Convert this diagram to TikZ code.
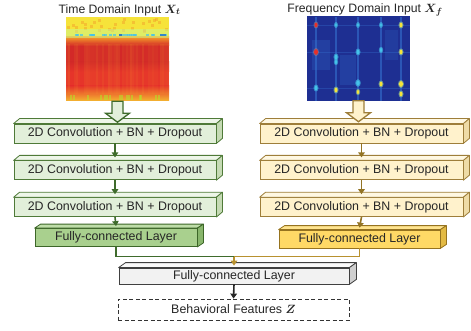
\documentclass[tikz,border=0pt]{standalone}
\usepackage{fontspec}
\setmainfont{Liberation Sans}
\usepackage{bm}
\usetikzlibrary{positioning,calc,arrows.meta}

\definecolor{convLfill}{HTML}{E2EFDA}
\definecolor{convLtop}{HTML}{EEF6E9}
\definecolor{convLside}{HTML}{C5DAB4}
\definecolor{convLdraw}{HTML}{4F7A38}
\definecolor{fcLfill}{HTML}{A9D08E}
\definecolor{fcLtop}{HTML}{BEDDA8}
\definecolor{fcLside}{HTML}{88B66C}
\definecolor{fcLdraw}{HTML}{3C6628}
\definecolor{convRfill}{HTML}{FFF2CC}
\definecolor{convRtop}{HTML}{FFF8E2}
\definecolor{convRside}{HTML}{EEDBA6}
\definecolor{convRdraw}{HTML}{9E7E3A}
\definecolor{fcRfill}{HTML}{FFD966}
\definecolor{fcRtop}{HTML}{FFE48E}
\definecolor{fcRside}{HTML}{E3BA44}
\definecolor{fcRdraw}{HTML}{96731F}
\definecolor{fcBfill}{HTML}{F2F2F2}
\definecolor{fcBtop}{HTML}{FAFAFA}
\definecolor{fcBside}{HTML}{CFCFCF}
\definecolor{fcBdraw}{HTML}{404040}
\definecolor{greenflow}{HTML}{3F6B2C}
\definecolor{goldflow}{HTML}{B8912F}
\definecolor{hmYellow}{HTML}{F6E33A}
\definecolor{hmOrange}{HTML}{F39A2A}
\definecolor{hmRed}{HTML}{E6302A}
\definecolor{hmDark}{HTML}{D22428}
\definecolor{hmCyan}{HTML}{45C3EA}
\definecolor{hmBlue}{HTML}{1E2F92}
\definecolor{hmLine}{HTML}{3570CF}

% side and top faces of a layer block
\newcommand{\boxdepth}[5]{%
  \filldraw[fill=#3, draw=#5, line width=0.8pt, line join=round]
    (#1.north west) -- ($(#1.north west)+(#2)$) -- ($(#1.north east)+(#2)$) -- (#1.north east) -- cycle;
  \filldraw[fill=#4, draw=#5, line width=0.8pt, line join=round]
    (#1.north east) -- ($(#1.north east)+(#2)$) -- ($(#1.south east)+(#2)$) -- (#1.south east) -- cycle;
}
% hollow input arrow under an image
\newcommand{\hollowarrow}[3]{%
  \filldraw[fill=#2, draw=#3, line width=1.3pt]
    ($(#1.south)+(-5.5,0)$) -- ++(0,12) -- ++(-6.5,0) -- ++(12,9) -- ++(12,-9) -- ++(-6.5,0) -- ++(0,-12) -- cycle;
}

\begin{document}
\begin{tikzpicture}[x=1pt, y=-1pt,
    layer/.style={rectangle, inner sep=0pt, font=\fontsize{12.4}{14}\selectfont, text=black!85, line width=0.8pt},
    convL/.style={layer, fill=convLfill, draw=convLdraw, minimum width=202pt, minimum height=19pt},
    convR/.style={layer, fill=convRfill, draw=convRdraw, minimum width=203pt, minimum height=19pt},
    fcL/.style={layer, fill=fcLfill, draw=fcLdraw, minimum width=162pt, minimum height=18pt},
    fcR/.style={layer, fill=fcRfill, draw=fcRdraw, minimum width=161pt, minimum height=18pt},
    fcB/.style={layer, fill=fcBfill, draw=fcBdraw, minimum width=230pt, minimum height=16pt},
    featbox/.style={layer, draw=black!80, dash pattern=on 4pt off 2.5pt, minimum width=231pt, minimum height=21pt},
    title/.style={font=\fontsize{12.2}{14}\selectfont, text=black!85, inner sep=0pt},
    imgbox/.style={rectangle, inner sep=0pt, minimum width=103pt, minimum height=84pt},
    flow/.style={-{Triangle[length=5pt,width=6.5pt]}, line width=1.6pt}]

  \useasboundingbox (0,0) rectangle (471,331);

  \node[title] (titleT) at (119.5,10) {Time Domain Input $\bm{X_t}$};
  \node[title] (titleF) at (365,10) {Frequency Domain Input $\bm{X_f}$};

  \node[imgbox] (imgT) at (117.5,59) {};
  \node[imgbox] (imgF) at (358.5,58.5) {};

  %% time domain heat map
  \begin{scope}
    \clip (imgT.north west) rectangle (imgT.south east);
    \fill[hmYellow] (66,17) rectangle (169,38);
    \shade[top color=hmOrange, bottom color=hmDark] (66,37) rectangle (169,46);
    \fill[hmDark] (66,46) rectangle (169,62);
    \shade[top color=hmDark, bottom color=hmRed] (66,62) rectangle (169,72);
    \fill[hmRed] (66,72) rectangle (169,88);
    \shade[top color=hmRed, bottom color=hmOrange!60!hmYellow] (66,86) rectangle (169,101);
    \pgfmathsetseed{5}
    \foreach \i in {0,...,51} {
      \pgfmathsetmacro{\xa}{66+2*\i}
      \pgfmathsetmacro{\op}{0.03+0.22*rnd}
      \fill[hmOrange, opacity=\op] (\xa,44) rectangle ++(2,50);
    }
    \foreach \i in {1,...,30} {
      \pgfmathsetmacro{\xa}{66+100*rnd}
      \pgfmathsetmacro{\ya}{18+12*rnd}
      \fill[hmOrange, opacity=0.45] (\xa,\ya) rectangle ++(3,3);
    }
    \fill[hmYellow!60!green!50!white, opacity=0.5] (66,29) rectangle (169,38);
    \foreach \i in {1,...,24} {
      \pgfmathsetmacro{\xa}{67+98*rnd}
      \fill[hmCyan, opacity=0.7] (\xa,34) rectangle ++(3,2.5);
    }
    \fill[hmBlue!50!hmCyan] (119,34) rectangle ++(3,2.5);
    \fill[hmBlue!40!hmCyan] (160,34) rectangle ++(6,2.5);
    \foreach \i in {1,...,16} {
      \pgfmathsetmacro{\xa}{66+100*rnd}
      \fill[hmYellow!70!green, opacity=0.5] (\xa,95) rectangle ++(2,5);
    }
  \end{scope}

  %% frequency domain heat map
  \begin{scope}
    \clip (imgF.north west) rectangle (imgF.south east);
    \fill[hmBlue] (imgF.north west) rectangle (imgF.south east);
    \fill[hmLine, opacity=0.25] (312,40) rectangle (330,70);
    \fill[hmLine, opacity=0.25] (340,55) rectangle (356,85);
    \fill[hmLine, opacity=0.2] (385,30) rectangle (398,60);
    \foreach \yy in {25,52,88} {
      \fill[hmLine, opacity=0.35] (307,\yy) rectangle ++(103,1.5);
    }
    \foreach \xx in {316,336,358,381,401} {
      \fill[hmLine, opacity=0.6] (\xx-1,17) rectangle ++(2,84);
    }
    \foreach \xx/\yy/\cc/\rr in {316/25/hmRed/1.5, 336/25/hmCyan/1, 358/25/hmCyan/1, 381/25/hmCyan/1,
        401/25/hmYellow/1.5, 316/52/hmRed/2, 336/57/hmCyan/1.5, 358/52/hmCyan/1.5, 381/50/hmCyan/1.2,
        401/52/hmYellow/1.5, 316/88/hmCyan/1.5, 336/90/hmYellow/1.5, 358/83/hmCyan/1.8, 381/84/hmYellow/1.5,
        401/84/hmYellow/2, 401/94/hmYellow/1.5, 336/62/hmCyan/1.2, 358/92/hmYellow/1.2} {
      \fill[\cc!50!hmCyan, opacity=0.6] (\xx,\yy) ellipse ({\rr+1} and {\rr+2});
      \fill[\cc] (\xx,\yy) ellipse ({\rr} and {\rr+0.8});
    }
  \end{scope}

  %% time branch
  \node[convL] (convL1) at (115,133.5) {2D Convolution + BN + Dropout};
  \node[convL] (convL2) [below=17pt of convL1] {2D Convolution + BN + Dropout};
  \node[convL] (convL3) [below=17pt of convL2] {2D Convolution + BN + Dropout};
  \node[fcL] (fcL) at (116,237.5) {Fully-connected Layer};

  %% frequency branch
  \node[convR] (convR1) at (361.5,133.5) {2D Convolution + BN + Dropout};
  \node[convR] (convR2) [below=17pt of convR1] {2D Convolution + BN + Dropout};
  \node[convR] (convR3) [below=17pt of convR2] {2D Convolution + BN + Dropout};
  \node[fcR] (fcR) at (359.5,239) {Fully-connected Layer};

  %% fusion
  \node[fcB] (fcB) at (234,276) {Fully-connected Layer};
  \node[featbox] (feat) at (233.5,309.5) {Behavioral Features $\bm{Z}$};

  \foreach \n in {convL1,convL2,convL3} {\boxdepth{\n}{6,-5}{convLtop}{convLside}{convLdraw}}
  \foreach \n in {convR1,convR2,convR3} {\boxdepth{\n}{6,-5}{convRtop}{convRside}{convRdraw}}
  \boxdepth{fcL}{6,-4}{fcLtop}{fcLside}{fcLdraw}
  \boxdepth{fcR}{6,-4}{fcRtop}{fcRside}{fcRdraw}
  \boxdepth{fcB}{7,-5}{fcBtop}{fcBside}{fcBdraw}

  \hollowarrow{imgT}{convLfill}{greenflow}
  \hollowarrow{imgF}{convRfill}{convRdraw}

  \draw[flow, greenflow] (convL1.south) -- ([yshift=3pt]convL2.north);
  \draw[flow, greenflow] (convL2.south) -- ([yshift=3pt]convL3.north);
  \draw[flow, greenflow] (convL3.south) -- ([yshift=2pt]fcL.north);
  \draw[flow, goldflow!80!black] (convR1.south) -- ([yshift=3pt]convR2.north);
  \draw[flow, goldflow!80!black] (convR2.south) -- ([yshift=3pt]convR3.north);
  \draw[flow, goldflow!80!black] (convR3.south) -- ([yshift=2pt]fcR.north);

  \coordinate (merge) at (234,256.5);
  \draw[greenflow, line width=1.6pt] (fcL.south) |- (merge);
  \draw[goldflow, line width=1.6pt] (fcR.south) |- (merge);
  \draw[flow, goldflow] (merge) -- ([yshift=2pt]fcB.north);
  \draw[flow, black!85] (fcB.south) -- (feat.north);
\end{tikzpicture}
\end{document}
